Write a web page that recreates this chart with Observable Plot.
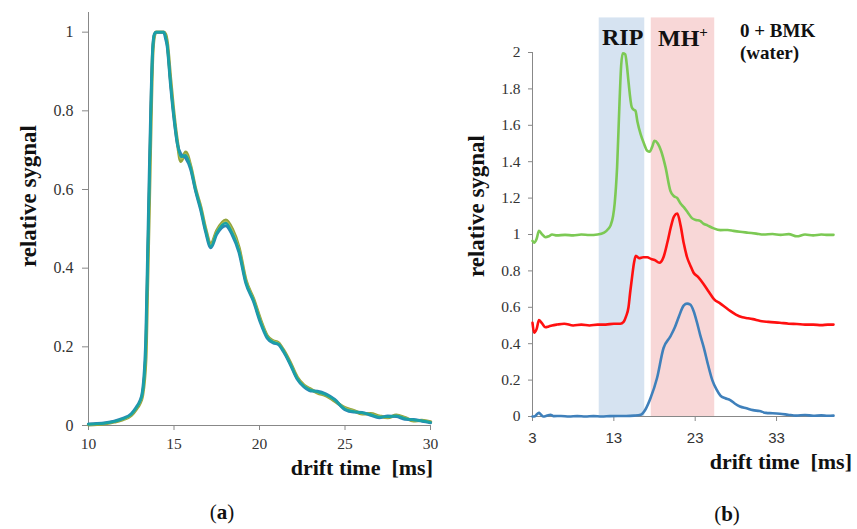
<!DOCTYPE html>
<html>
<head>
<meta charset="utf-8">
<script src="https://cdn.jsdelivr.net/npm/d3@7"></script>
<script src="https://cdn.jsdelivr.net/npm/@observablehq/plot@0.6"></script>
<style>
  html, body { margin: 0; padding: 0; background: #fff; }
  #wrap { position: relative; width: 857px; height: 529px; background: #fff; overflow: hidden; }
  .lbl { position: absolute; font-family: "Liberation Serif", serif; font-weight: bold; color: #111; white-space: pre; line-height: 1; }
  #pa, #pb { position: absolute; top: 0; }
  #pa { left: 0; }
  #pb { left: 440px; }
</style>
</head>
<body>
<div id="wrap">
  <div id="pa"></div>
  <div id="pb"></div>
  <div class="lbl" style="font-size:23px;left:28px;top:196px;transform:translate(-50%,-50%) rotate(-90deg);">relative sygnal</div>
  <div class="lbl" style="font-size:22px;right:424px;top:457px;">drift time  [ms]</div>
  <div class="lbl" style="font-size:21px;font-weight:normal;left:222px;top:502px;transform:translateX(-50%);">(<b>a</b>)</div>
  <div class="lbl" style="font-size:23px;left:476px;top:206px;transform:translate(-50%,-50%) rotate(-90deg);">relative sygnal</div>
  <div class="lbl" style="font-size:22px;right:5px;top:451px;">drift time  [ms]</div>
  <div class="lbl" style="font-size:21px;font-weight:normal;left:727px;top:504px;transform:translateX(-50%);">(<b>b</b>)</div>
  <div class="lbl" style="font-size:24px;left:602px;top:25px;">RIP</div>
  <div class="lbl" style="font-size:24px;left:658px;top:25px;">MH<sup style="font-size:15px;vertical-align:9px;">+</sup></div>
  <div class="lbl" style="font-size:19px;left:740px;top:21px;">0 + BMK</div>
  <div class="lbl" style="font-size:19px;left:740px;top:43px;">(water)</div>
</div>
<script>
// ---------- Panel (a) data ----------
const xTicksA = [10, 15, 20, 25, 30];
const yTicksA = [0, 0.2, 0.4, 0.6, 0.8, 1];
const leftX = [10, 10.5, 11, 11.5, 12, 12.5, 12.8, 13.0, 13.15, 13.35, 13.45, 13.55, 13.65, 13.75, 13.85, 13.95, 14.4, 14.5, 14.6, 14.8, 15.0, 15.2, 15.4, 15.68, 15.97, 16.27, 16.56, 16.85, 17.15, 17.5, 18.03, 18.4, 18.8, 19.2, 19.65, 20.05, 20.45, 20.8, 21.1, 21.4, 21.8, 22.2, 22.6, 23.0, 23.4, 23.9, 24.4, 25.0, 25.5, 26.0, 26.5, 27.0, 27.5, 28.0, 28.5, 29.0, 29.5, 30];
const tealY = [0.003, 0.004, 0.006, 0.01, 0.017, 0.028, 0.045, 0.06, 0.08, 0.2, 0.4, 0.6, 0.8, 0.95, 0.995, 1.0, 1.0, 0.99, 0.97, 0.87, 0.785, 0.717, 0.683, 0.687, 0.657, 0.598, 0.552, 0.496, 0.455, 0.49, 0.515, 0.49, 0.445, 0.365, 0.318, 0.265, 0.225, 0.212, 0.208, 0.19, 0.157, 0.12, 0.1, 0.09, 0.085, 0.078, 0.065, 0.042, 0.036, 0.032, 0.028, 0.022, 0.022, 0.025, 0.018, 0.014, 0.012, 0.008];
const oliveY = [0.002, 0.003, 0.005, 0.009, 0.015, 0.026, 0.042, 0.056, 0.075, 0.17, 0.36, 0.56, 0.77, 0.94, 0.99, 1.0, 1.0, 0.995, 0.975, 0.88, 0.79, 0.72, 0.672, 0.695, 0.66, 0.6, 0.556, 0.5, 0.46, 0.495, 0.522, 0.5, 0.452, 0.37, 0.322, 0.27, 0.228, 0.215, 0.21, 0.192, 0.16, 0.123, 0.102, 0.092, 0.083, 0.076, 0.062, 0.045, 0.038, 0.03, 0.03, 0.024, 0.02, 0.026, 0.02, 0.012, 0.013, 0.009];
const blueAY = [0.004, 0.005, 0.007, 0.011, 0.018, 0.03, 0.047, 0.062, 0.085, 0.22, 0.42, 0.63, 0.82, 0.955, 0.995, 1.0, 1.0, 0.985, 0.965, 0.865, 0.78, 0.715, 0.69, 0.68, 0.652, 0.595, 0.548, 0.492, 0.452, 0.486, 0.508, 0.485, 0.44, 0.362, 0.315, 0.262, 0.222, 0.21, 0.206, 0.188, 0.155, 0.118, 0.098, 0.088, 0.087, 0.08, 0.066, 0.04, 0.034, 0.033, 0.026, 0.02, 0.024, 0.023, 0.016, 0.015, 0.011, 0.007];
const yellowY = [0.003, 0.004, 0.006, 0.01, 0.016, 0.027, 0.044, 0.058, 0.078, 0.19, 0.38, 0.58, 0.79, 0.945, 0.99, 1.0, 1.0, 0.99, 0.97, 0.875, 0.788, 0.72, 0.678, 0.69, 0.66, 0.6, 0.554, 0.498, 0.458, 0.492, 0.518, 0.495, 0.448, 0.368, 0.32, 0.268, 0.226, 0.214, 0.209, 0.19, 0.158, 0.121, 0.101, 0.091, 0.084, 0.077, 0.064, 0.044, 0.037, 0.031, 0.029, 0.023, 0.021, 0.025, 0.019, 0.013, 0.012, 0.008];

// ---------- Panel (b) data ----------
const xTicksB = [3, 13, 23, 33];
const yTicksB = [0, 0.2, 0.4, 0.6, 0.8, 1, 1.2, 1.4, 1.6, 1.8, 2];
const ripBand = [11.2, 16.8];
const mhBand = [17.6, 25.4];
const bandTop = 2.19;
const greenX = [3, 3.2, 3.5, 3.8, 4.2, 4.6, 5.0, 5.4, 6, 7, 8, 9, 10, 11, 11.8, 12.3, 12.6, 12.9, 13.1, 13.4, 13.7, 13.9, 14.1, 14.4, 14.6, 14.8, 15.2, 15.45, 15.65, 15.9, 16.3, 16.7, 17.1, 17.4, 17.7, 18.0, 18.4, 18.8, 19.35, 19.95, 20.4, 20.8, 21.2, 21.6, 22.1, 22.6, 23.1, 23.6, 24.0, 24.5, 25.2, 26.1, 27, 27.7, 28.5, 29.5, 30.5, 31.4, 32.5, 33.5, 34.5, 35.5, 36.5, 37.5, 38.5, 39.3, 40];
const greenY = [0.965, 0.955, 0.975, 1.02, 1.0, 0.985, 0.99, 1.0, 0.995, 0.998, 0.995, 1.0, 0.997, 1.0, 1.01, 1.03, 1.05, 1.1, 1.17, 1.37, 1.73, 1.93, 1.995, 1.99, 1.93, 1.84, 1.70, 1.685, 1.68, 1.62, 1.55, 1.5, 1.46, 1.455, 1.48, 1.515, 1.5, 1.46, 1.37, 1.24, 1.21, 1.2, 1.17, 1.15, 1.12, 1.09, 1.08, 1.075, 1.06, 1.05, 1.035, 1.024, 1.025, 1.02, 1.015, 1.01, 1.005, 1.0, 1.003, 0.998, 1.002, 0.99, 1.0, 0.995, 1.0, 0.998, 0.998];
const redX = [3, 3.2, 3.5, 3.8, 4.2, 4.6, 5.0, 5.4, 6, 6.9, 8, 9, 10, 11, 12, 13, 13.8, 14.2, 14.5, 14.8, 15.0, 15.25, 15.5, 15.7, 16.1, 16.6, 17.1, 17.6, 18.0, 18.6, 19.1, 19.6, 20.0, 20.4, 20.8, 21.2, 21.6, 22.0, 22.4, 22.8, 23.4, 24.0, 24.6, 25.3, 26.1, 26.7, 27.3, 28.0, 28.8, 29.5, 30.1, 31, 32, 33.4, 34.5, 35.5, 36.5, 37.5, 38.5, 39.3, 40];
const redY = [0.515, 0.46, 0.48, 0.53, 0.51, 0.49, 0.495, 0.5, 0.505, 0.51, 0.5, 0.505, 0.5, 0.505, 0.505, 0.51, 0.51, 0.52, 0.55, 0.6, 0.68, 0.77, 0.85, 0.883, 0.87, 0.875, 0.875, 0.865, 0.86, 0.845, 0.875, 0.96, 1.04, 1.1, 1.115, 1.05, 0.95, 0.875, 0.83, 0.79, 0.765, 0.73, 0.69, 0.645, 0.62, 0.6, 0.58, 0.56, 0.545, 0.54, 0.535, 0.525, 0.52, 0.515, 0.51, 0.508, 0.505, 0.505, 0.502, 0.505, 0.505];
const blueX = [3, 3.3, 3.6, 3.8, 4.0, 4.3, 4.8, 5.2, 5.6, 6.5, 7.5, 8.5, 9.5, 10.5, 11.5, 12.5, 13.5, 14.5, 15.5, 16.3, 16.9, 17.5, 18.3, 19.1, 19.95, 20.5, 21.0, 21.6, 22.0, 22.4, 22.8, 23.2, 23.6, 24.05, 24.6, 25.1, 25.6, 26.1, 26.7, 27.3, 27.9, 28.5, 29.3, 30.1, 30.9, 31.7, 32.5, 33.4, 34.4, 35.4, 36.5, 37.5, 38.5, 39.3, 40];
const blueY = [0.0, 0.002, 0.015, 0.02, 0.012, 0.0, 0.005, 0.01, 0.002, 0.003, 0.0, 0.002, 0.0, 0.002, 0.0, 0.002, 0.003, 0.003, 0.005, 0.01, 0.04, 0.1, 0.21, 0.375, 0.44, 0.49, 0.55, 0.61, 0.62, 0.615, 0.58, 0.52, 0.45, 0.38, 0.28, 0.2, 0.15, 0.115, 0.1, 0.09, 0.07, 0.055, 0.045, 0.035, 0.03, 0.02, 0.018, 0.015, 0.01, 0.005, 0.008, 0.004, 0.006, 0.004, 0.005];

const rows = (xs, ys) => xs.map((x, i) => ({x, y: ys[i]}));
const fmt = d => String(d);
const blank = () => "";
const SERIF = "Liberation Serif";
const SANS = "Liberation Sans";

const seriesA = [
  {y: oliveY, stroke: "#93a43c", w: 3.4},
  {y: yellowY, stroke: "#b3bf55", w: 2.4},
  {y: blueAY, stroke: "#2a87b5", w: 3},
  {y: tealY, stroke: "#1aa2a4", w: 2.4}
];

const plotA = Plot.plot({
  width: 440, height: 480,
  marginLeft: 88, marginRight: 10, marginTop: 12, marginBottom: 55,
  style: {background: "#fff"},
  x: {domain: [10, 30]},
  y: {domain: [0, 1.05]},
  marks: [
    Plot.axisY({ticks: yTicksA, tickSize: 6, label: null, tickFormat: blank, stroke: "#888"}),
    Plot.axisX({ticks: xTicksA, tickSize: 5, label: null, tickFormat: blank, stroke: "#888"}),
    Plot.text(yTicksA, {y: d => d, frameAnchor: "left", dx: -15, textAnchor: "end", text: fmt, fontSize: 16, fontFamily: SERIF, fill: "#333"}),
    Plot.text(xTicksA, {x: d => d, frameAnchor: "bottom", dy: 12, lineAnchor: "top", text: fmt, fontSize: 15.5, fontFamily: SERIF, fill: "#333"}),
    Plot.ruleX([10], {y1: 0, y2: 1.05, stroke: "#888"}),
    Plot.ruleY([0], {stroke: "#888"}),
    ...seriesA.map(s => Plot.line(rows(leftX, s.y), {x: "x", y: "y", stroke: s.stroke, strokeWidth: s.w, curve: "monotone-x"}))
  ]
});
document.getElementById("pa").appendChild(plotA);

const plotB = Plot.plot({
  width: 417, height: 470,
  marginLeft: 92, marginRight: 24, marginTop: 52, marginBottom: 54,
  style: {background: "transparent"},
  x: {domain: [3, 40]},
  y: {domain: [0, 2]},
  marks: [
    Plot.rect([ripBand], {x1: d => d[0], x2: d => d[1], y1: 0, y2: bandTop, fill: "#d6e3f1"}),
    Plot.rect([mhBand], {x1: d => d[0], x2: d => d[1], y1: 0, y2: bandTop, fill: "#f8d7d7"}),
    Plot.axisY({ticks: yTicksB, tickSize: 4, label: null, tickFormat: blank, stroke: "#888"}),
    Plot.axisX({ticks: xTicksB, tickSize: 5, label: null, tickFormat: blank, stroke: "#888"}),
    Plot.text(yTicksB, {y: d => d, frameAnchor: "left", dx: -12, textAnchor: "end", text: fmt, fontSize: 15.5, fontFamily: SERIF, fill: "#333"}),
    Plot.text(xTicksB, {x: d => d, frameAnchor: "bottom", dy: 16, lineAnchor: "top", text: fmt, fontSize: 15, fontFamily: SANS, fill: "#333"}),
    Plot.ruleX([3], {y1: 0, y2: 2, stroke: "#888"}),
    Plot.ruleY([0], {stroke: "#888"}),
    Plot.line(rows(greenX, greenY), {x: "x", y: "y", stroke: "#7cc954", strokeWidth: 2.6, curve: "monotone-x"}),
    Plot.line(rows(redX, redY), {x: "x", y: "y", stroke: "#ff1010", strokeWidth: 2.6, curve: "monotone-x"}),
    Plot.line(rows(blueX, blueY), {x: "x", y: "y", stroke: "#3f80bb", strokeWidth: 2.6, curve: "monotone-x"})
  ]
});
document.getElementById("pb").appendChild(plotB);
</script>
</body>
</html>
